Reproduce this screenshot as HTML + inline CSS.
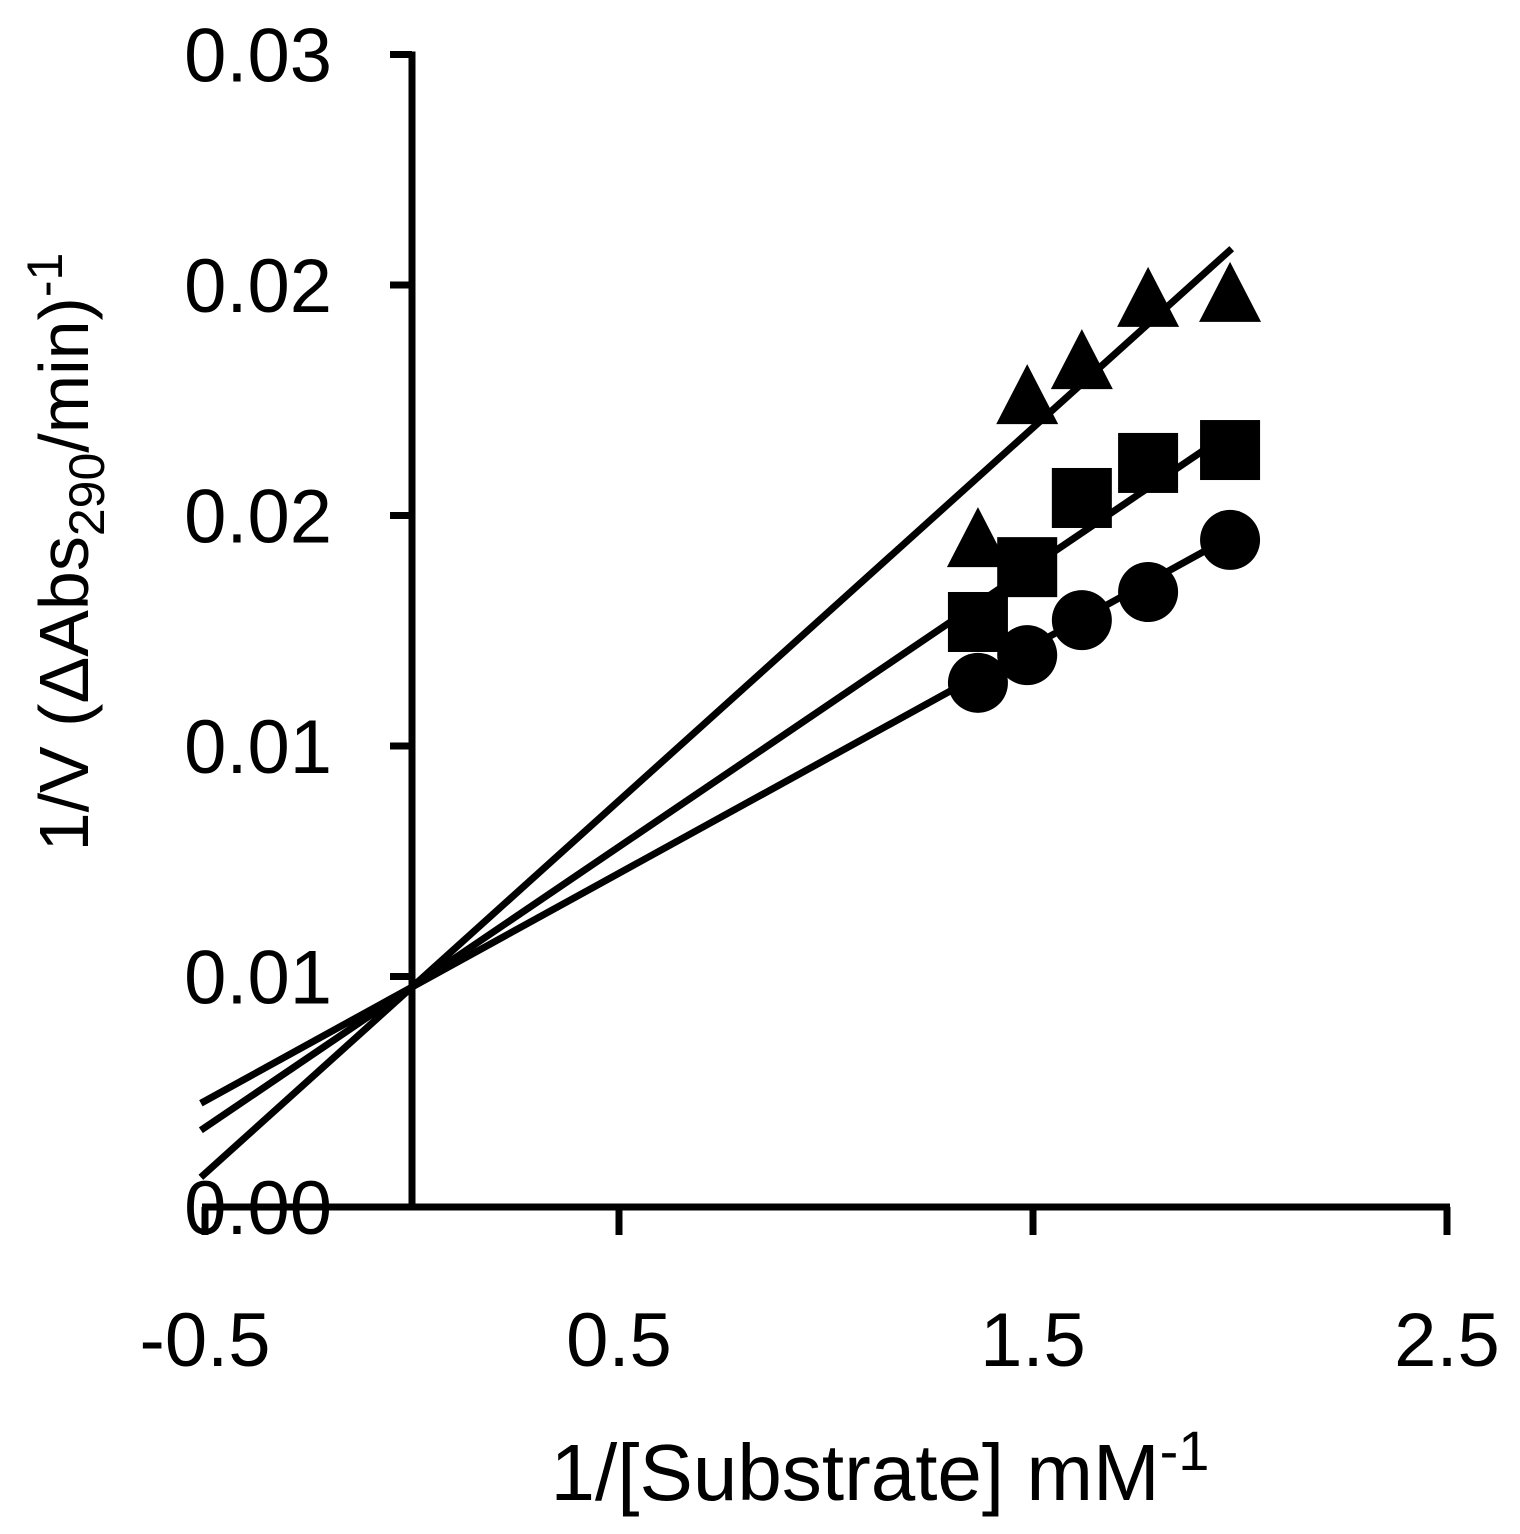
<!DOCTYPE html>
<html><head><meta charset="utf-8"><style>
html,body{margin:0;padding:0;background:#fff;}
svg{display:block;font-family:"Liberation Sans",Arial,sans-serif;}
</style></head><body>
<svg id="chart" width="1520" height="1534" viewBox="0 0 1520 1534">
<g id="lines"></g>
<g id="marks"></g>
<g id="axes"></g>
<text x="88" y="552" font-size="70" text-anchor="middle" transform="rotate(-90 88 552)">1/V (ΔAbs<tspan font-size="50" dy="16">290</tspan><tspan dy="-16">/min)</tspan><tspan font-size="50" dy="-26">-1</tspan></text>
<text x="880" y="1500" font-size="80" text-anchor="middle">1/[Substrate] mM<tspan font-size="56" dy="-30">-1</tspan></text>
</svg>
<script>
const xTicks=[-0.5,0.5,1.5,2.5];
const xTickLabels=["-0.5","0.5","1.5","2.5"];
const yTicks=[0,0.005,0.01,0.015,0.02,0.025];
const yTickLabels=["0.00","0.01","0.01","0.02","0.02","0.03"];
const circleX=[1.367,1.486,1.618,1.778,1.976];
const circleY=[0.01137,0.01197,0.01273,0.01334,0.01447];
const squareX=[1.367,1.486,1.618,1.778,1.976];
const squareY=[0.01269,0.01388,0.01538,0.01614,0.01642];
const triangleX=[1.367,1.486,1.618,1.778,1.976];
const triangleY=[0.01451,0.01761,0.01837,0.01972,0.01983];
const lineIntercept=[0.00477,0.00477,0.00477];
const lineSlope=[0.00494,0.00609,0.00809];
const lineRange=[-0.51,1.98];

const X=v=>412+v*414;
const Y=v=>1207-v*46100;
const NS="http://www.w3.org/2000/svg";
function mk(tag,attrs,parent){const e=document.createElementNS(NS,tag);for(const k in attrs)e.setAttribute(k,attrs[k]);parent.appendChild(e);return e;}
const axes=document.getElementById('axes'),lines=document.getElementById('lines'),marks=document.getElementById('marks');

xTicks.forEach((t,i)=>{
  let tx=mk('text',{x:X(t),y:1366,'font-size':76,'text-anchor':'middle'},axes);tx.textContent=xTickLabels[i];
  
  
});
yTicks.forEach((t,i)=>{
  let tx=mk('text',{x:332,y:Y(t)+27,'font-size':76,'text-anchor':'end'},axes);tx.textContent=yTickLabels[i];
  
  
});
let e=mk('line',{x1:X(-0.5)-3,y1:Y(0),x2:X(2.5)+3,y2:Y(0),stroke:'#000','stroke-width':7},axes);


e=mk('line',{x1:X(0),y1:Y(0)+3,x2:X(0),y2:Y(0.025)-3,stroke:'#000','stroke-width':7},axes);


xTicks.forEach((t,i)=>{
  let l=mk('line',{x1:X(t),y1:Y(0),x2:X(t),y2:Y(0)+28,stroke:'#000','stroke-width':7},axes);
  
  
});
yTicks.forEach((t,i)=>{
  let l=mk('line',{x1:X(0)-22,y1:Y(t),x2:X(0),y2:Y(t),stroke:'#000','stroke-width':7},axes);
  
  
});
lineIntercept.forEach((b,i)=>{
  const m=lineSlope[i];
  let l=mk('line',{x1:X(lineRange[0]),y1:Y(b+m*lineRange[0]),x2:X(lineRange[1]),y2:Y(b+m*lineRange[1]),stroke:'#000','stroke-width':7},lines);
  
  
});
circleX.forEach((x,i)=>{
  let c=mk('circle',{cx:X(x),cy:Y(circleY[i]),r:30,fill:'#000'},marks);
  
  
});
squareX.forEach((x,i)=>{
  let r=mk('rect',{x:X(x)-30,y:Y(squareY[i])-30,width:60,height:60,fill:'#000'},marks);
  
  
});
triangleX.forEach((x,i)=>{
  const cx=X(x),cy=Y(triangleY[i]);
  let p=mk('polygon',{points:`${cx},${cy-31} ${cx-31},${cy+29} ${cx+31},${cy+29}`,fill:'#000'},marks);
  
  
});
</script>
</body></html>
